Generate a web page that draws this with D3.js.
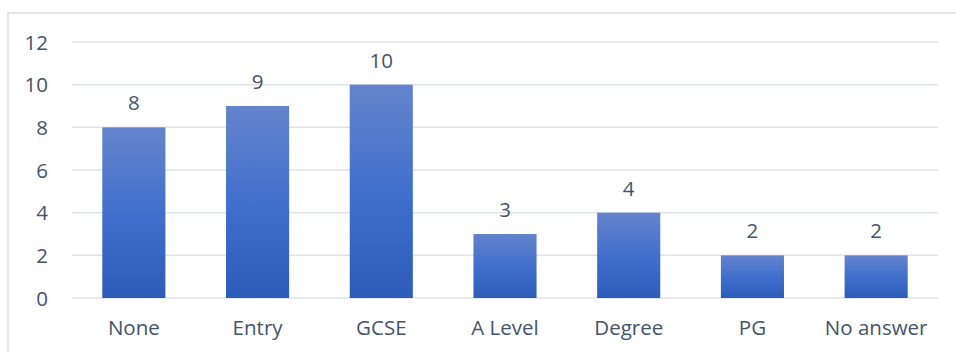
<!DOCTYPE html>
<html><head><meta charset="utf-8">
<script src="https://cdn.jsdelivr.net/npm/d3@7"></script>
<style>
html,body{margin:0;padding:0;background:#fff;}
text{font-family:"Open Sans","Noto Sans",sans-serif;fill:#44546a;}
</style></head>
<body><svg id="chart" width="956" height="352"></svg>
<script>
const categories = ["None","Entry","GCSE","A Level","Degree","PG","No answer"];
const values = [8,9,10,3,4,2,2];
const yTicks = [0,2,4,6,8,10,12];

const svg = d3.select("#chart");
const W = 956, H = 352;
const m = {left:72, right:18, top:42, bottom:54};
const fs = "20.5px";

svg.append("rect").attr("x",8).attr("y",13).attr("width",W).attr("height",H)
  .attr("fill","none").attr("stroke","#d9dde3").attr("stroke-width",1.5);

const x = d3.scaleBand().domain(categories).range([m.left, W-m.right]).paddingInner(0.49).paddingOuter(0.245);
const y = d3.scaleLinear().domain([0,12]).range([H-m.bottom, m.top]);

const defs = svg.append("defs");
const g = defs.append("linearGradient").attr("id","bg").attr("x1",0).attr("y1",0).attr("x2",0).attr("y2",1);
g.append("stop").attr("offset","0%").attr("stop-color","#6484cc");
g.append("stop").attr("offset","55%").attr("stop-color","#3e6dcc");
g.append("stop").attr("offset","100%").attr("stop-color","#2d5bb8");

// gridlines
svg.append("g").selectAll("line").data(yTicks).join("line")
  .attr("x1",m.left).attr("x2",W-m.right)
  .attr("y1",d=>y(d)).attr("y2",d=>y(d))
  .attr("stroke","#dfe3ea").attr("stroke-width",1.5);

// y axis labels
const yAxis = d3.axisLeft(y).tickValues(yTicks).tickSize(0).tickPadding(0);
const ya = svg.append("g").attr("transform",`translate(${m.left-24},0)`).call(yAxis);
ya.select(".domain").remove();
ya.selectAll("text").style("font-size",fs).attr("text-anchor","end").attr("dy","0.35em").style("fill","#44546a");

// bars
svg.append("g").selectAll("rect").data(values).join("rect")
  .attr("x",(d,i)=>x(categories[i]))
  .attr("width",x.bandwidth())
  .attr("y",d=>y(d))
  .attr("height",d=>y(0)-y(d))
  .attr("fill","url(#bg)");

// value labels
svg.append("g").selectAll("text").data(values).join("text")
  .attr("x",(d,i)=>x(categories[i])+x.bandwidth()/2)
  .attr("y",d=>y(d)-17)
  .attr("text-anchor","middle")
  .style("font-size",fs)
  .text(d=>d);

// x axis
const xAxis = d3.axisBottom(x).tickSize(0).tickPadding(0);
const xa = svg.append("g").attr("transform",`translate(0,${H-m.bottom})`).call(xAxis);
xa.select(".domain").remove();
xa.selectAll("text").style("font-size",fs).attr("y",37).attr("dy",0).style("fill","#44546a");
</script></body></html>
